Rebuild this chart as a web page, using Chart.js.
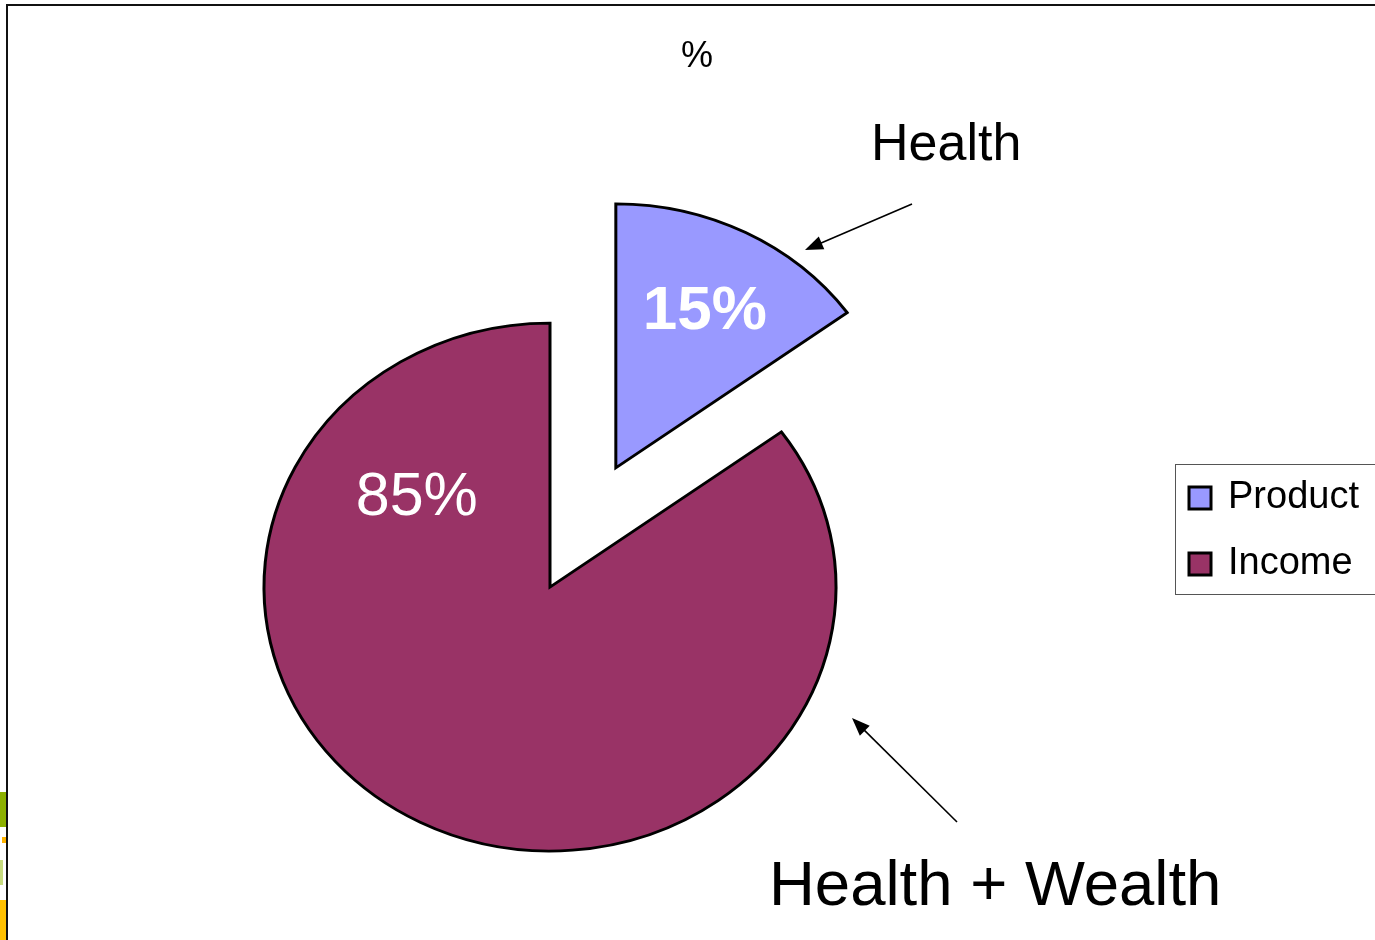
<!DOCTYPE html>
<html>
<head>
<meta charset="utf-8">
<title>Health + Wealth</title>
<script src="https://cdn.jsdelivr.net/npm/chart.js@4.4.1/dist/chart.umd.min.js"></script>
<style>
html,body{margin:0;padding:0;background:#fff;overflow:hidden}
#wrap{position:relative;width:1375px;height:940px}
</style>
</head>
<body>
<div id="wrap"><canvas id="pieChart"></canvas></div>
<script>
// data
const labels = ["Product", "Income"]
const shares = [15, 85]
const colours = ["#9999FF", "#993366"]
const titleText = "%"
const calloutTop = "Health"
const calloutBottom = "Health + Wealth"

// look
const FONT = '"Liberation Sans", Arial, sans-serif'
const SQUASH = 0.923            // the pie is a bit flatter than a circle
const EXPLODE = [145, 0]        // how far each slice is pulled out
const LABEL_AT = [[0.5, 0.685], [0.828, 0.586]]   // [fraction along slice, fraction of radius]

function toPage(arc, angle, r, push) {
	const mid = (arc.startAngle + arc.endAngle) / 2
	return {
		x: arc.x + Math.cos(mid) * push + Math.cos(angle) * r,
		y: arc.y + (Math.sin(mid) * push + Math.sin(angle) * r) * SQUASH
	}
}

function arrow(ctx, x1, y1, x2, y2) {
	const a = Math.atan2(y2 - y1, x2 - x1)
	const len = 18, half = 7
	ctx.beginPath()
	ctx.moveTo(x1, y1)
	ctx.lineTo(x2 - Math.cos(a) * len * 0.8, y2 - Math.sin(a) * len * 0.8)
	ctx.lineWidth = 1.6
	ctx.strokeStyle = '#000'
	ctx.stroke()
	ctx.beginPath()
	ctx.moveTo(x2, y2)
	ctx.lineTo(x2 - Math.cos(a) * len - Math.sin(a) * half, y2 - Math.sin(a) * len + Math.cos(a) * half)
	ctx.lineTo(x2 - Math.cos(a) * len + Math.sin(a) * half, y2 - Math.sin(a) * len - Math.cos(a) * half)
	ctx.closePath()
	ctx.fillStyle = '#000'
	ctx.fill()
}

const framePlugin = {
	id: 'frame',
	beforeDraw(chart) {
		const ctx = chart.ctx
		ctx.save()
		// bits of the slide picture peeking out on the left
		ctx.fillStyle = '#8cb000'
		ctx.fillRect(0, 792, 6, 35)
		ctx.fillStyle = '#c8dc80'
		ctx.fillRect(0, 860, 3, 25)
		ctx.fillStyle = '#ffb400'
		ctx.fillRect(2, 837, 4, 6)
		ctx.fillStyle = '#ffc000'
		ctx.fillRect(0, 900, 6, 40)
		// frame
		ctx.strokeStyle = '#111'
		ctx.lineWidth = 2
		ctx.beginPath()
		ctx.moveTo(7, 940)
		ctx.lineTo(7, 5)
		ctx.lineTo(1375, 5)
		ctx.stroke()
		ctx.restore()
	}
}

const squashPlugin = {
	id: 'squash',
	beforeDatasetsDraw(chart) {
		const arc = chart.getDatasetMeta(0).data[0]
		const ctx = chart.ctx
		ctx.save()
		ctx.translate(arc.x, arc.y)
		ctx.scale(1, SQUASH)
		ctx.translate(-arc.x, -arc.y)
	},
	afterDatasetsDraw(chart) {
		chart.ctx.restore()
	}
}

const explodePlugin = {
	id: 'explode',
	afterDatasetsUpdate(chart) {
		chart.getDatasetMeta(0).data.forEach((arc, i) => {
			if (arc._pulled) return
			const draw = arc.draw
			arc.draw = function (ctx) {
				const mid = (this.startAngle + this.endAngle) / 2
				ctx.save()
				ctx.translate(Math.cos(mid) * EXPLODE[i], Math.sin(mid) * EXPLODE[i])
				draw.call(this, ctx)
				ctx.restore()
			}
			arc._pulled = true
		})
	}
}

const textPlugin = {
	id: 'texts',
	afterDraw(chart) {
		const ctx = chart.ctx
		const meta = chart.getDatasetMeta(0)
		ctx.save()

		// slice labels, centred on their cap height
		ctx.textAlign = 'center'
		ctx.textBaseline = 'alphabetic'
		ctx.fillStyle = '#fff'
		meta.data.forEach((arc, i) => {
			const [f, rf] = LABEL_AT[i]
			const a = arc.startAngle + (arc.endAngle - arc.startAngle) * f
			const p = toPage(arc, a, arc.outerRadius * rf, EXPLODE[i])
			const size = i === 0 ? 62 : 61
			ctx.font = (i === 0 ? 'bold ' : '') + size + 'px ' + FONT
			ctx.fillText(shares[i] + '%', p.x, p.y + size * 0.36)
		})

		// title
		ctx.fillStyle = '#000'
		ctx.font = '36px ' + FONT
		ctx.fillText(titleText, 697, 67)

		// callouts
		ctx.textAlign = 'left'
		ctx.font = '52px ' + FONT
		ctx.fillText(calloutTop, 871, 160)
		ctx.font = '63.5px ' + FONT
		ctx.fillText(calloutBottom, 769, 905)
		arrow(ctx, 912, 204, 805, 250)
		arrow(ctx, 957, 822, 852, 718)

		// legend
		ctx.strokeStyle = '#555'
		ctx.lineWidth = 1
		ctx.strokeRect(1175.5, 464.5, 240, 130)
		labels.forEach((lab, i) => {
			const y = 487 + i * 66
			ctx.fillStyle = colours[i]
			ctx.fillRect(1189, y, 22, 22)
			ctx.strokeStyle = '#000'
			ctx.lineWidth = 3
			ctx.strokeRect(1189, y, 22, 22)
			ctx.fillStyle = '#000'
			ctx.font = '38px ' + FONT
			ctx.fillText(lab, 1228, y + 21)
		})
		ctx.restore()
	}
}

const ctx = document.getElementById('pieChart').getContext('2d')
let myChart = new Chart(ctx, {
	type: 'pie',
	data: {
		labels: labels,
		datasets: [{
			data: shares,
			backgroundColor: colours,
			borderColor: '#000',
			borderWidth: 3,
			borderJoinStyle: 'miter',
			clip: false
		}]
	},
	options: {
		responsive: true,
		maintainAspectRatio: false,
		animation: false,
		events: [],
		radius: 286,
		layout: { padding: { left: 0, right: 275, top: 234, bottom: 0 } },
		plugins: {
			legend: { display: false },
			tooltip: { enabled: false },
			title: { display: false }
		}
	},
	plugins: [framePlugin, squashPlugin, explodePlugin, textPlugin]
})
</script>
</body>
</html>
